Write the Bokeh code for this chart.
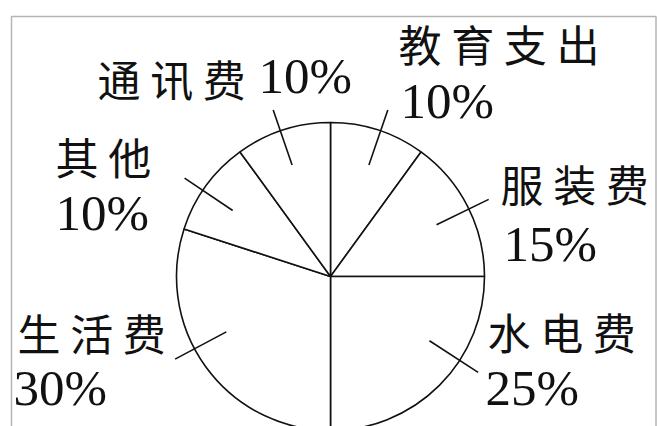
import numpy as np
from bokeh.plotting import figure
from bokeh.models import Range1d
from bokeh.core.properties import value
from bokeh.embed import file_html
from bokeh.resources import INLINE

# ---- data ----
categories = ["教育支出", "服装费", "水电费", "生活费", "其他", "通讯费"]
shares = [10, 15, 25, 30, 10, 10]
pct_labels = ["10%", "15%", "25%", "30%", "10%", "10%"]

# ---- layout (page pixel coordinates) ----
W, H = 657, 426
PAGE_H = 426
cx, cy, R = 330, 276, 154
name_x = [398, 500, 487, 17, 55, 97]
name_y = [42, 182, 330, 331, 155, 77]
pct_x = [400, 503, 485, 13, 55, 258]
pct_y = [100, 243, 387, 387, 212, 75]
leader_shift_deg = [-1, -1, 12, -8, 2, 1]
r_in, r_out = 118, 176


def fy(y):
    return PAGE_H - y


def spaced(s):
    return " ".join(list(s))


p = figure(width=W, height=H, x_range=Range1d(0, W), y_range=Range1d(PAGE_H - H, PAGE_H),
           output_backend="svg", toolbar_location=None, min_border=0,
           x_axis_location=None, y_axis_location=None)
p.grid.visible = False
p.outline_line_color = None
p.background_fill_color = "white"

# frame
p.quad(left=11, right=655.5, top=fy(16), bottom=fy(440), fill_color=None,
       line_color="#b4b4b4", line_width=1.5)

# pie slices (clockwise from 12 o'clock)
frac = np.array(shares, dtype=float) / sum(shares)
cum = np.concatenate([[0], np.cumsum(frac)])
start = np.pi / 2 - cum[:-1] * 2 * np.pi
end = np.pi / 2 - cum[1:] * 2 * np.pi
p.wedge(x=cx, y=fy(cy), radius=R, start_angle=start, end_angle=end, direction="clock",
        fill_color="white", line_color="#111111", line_width=1.6)

# leader ticks
mid = (start + end) / 2 + np.radians(leader_shift_deg)
x0 = cx + r_in * np.cos(mid)
y0 = fy(cy) + r_in * np.sin(mid)
x1 = cx + r_out * np.cos(mid)
y1 = fy(cy) + r_out * np.sin(mid)
p.segment(x0=x0, y0=y0, x1=x1, y1=y1, line_color="#111111", line_width=1.6)

# labels
p.text(x=name_x, y=[fy(v) for v in name_y], text=[spaced(c) for c in categories],
       text_font=value("Noto Sans CJK SC"), text_font_size="43px",
       text_align="left", text_baseline="middle", text_color="#111111")
p.text(x=pct_x, y=[fy(v) for v in pct_y], text=pct_labels,
       text_font=value("Liberation Serif"), text_font_size="51px",
       text_align="left", text_baseline="middle", text_color="#111111")

open("out.html", "w").write(file_html(p, INLINE))
